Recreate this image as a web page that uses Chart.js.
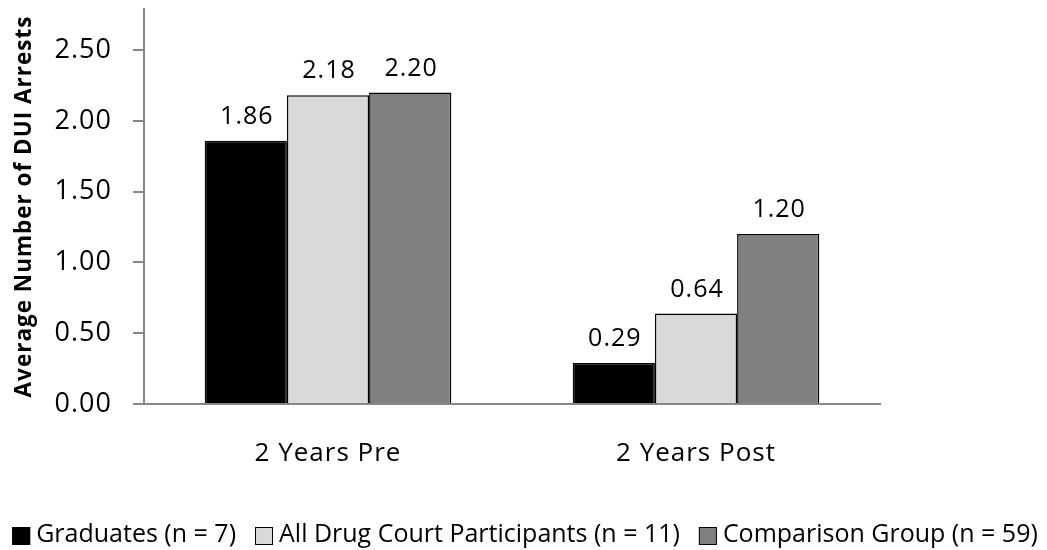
<!DOCTYPE html>
<html>
<head>
<meta charset="utf-8">
<script src="https://cdn.jsdelivr.net/npm/chart.js@4/dist/chart.umd.min.js"></script>
<style>
html,body{margin:0;padding:0;background:#fff;}
#wrap{width:1047px;height:550px;position:relative;}
</style>
</head>
<body>
<div id="wrap"><canvas id="c"></canvas></div>
<script>
const categories = ['2 Years Pre', '2 Years Post'];
const graduates = [1.86, 0.29];
const allParticipants = [2.18, 0.64];
const comparison = [2.20, 1.20];
const seriesLabels = ['Graduates (n = 7)', 'All Drug Court Participants (n = 11)', 'Comparison Group (n = 59)'];
const seriesColors = ['#000000', '#d9d9d9', '#808080'];
const yTickValues = [0, 0.5, 1.0, 1.5, 2.0, 2.5];
const yAxisTitle = 'Average Number of DUI Arrests';

const FONT = "'Open Sans', 'Noto Sans', sans-serif";

const spacingPlugin = {
  id: 'spacing',
  beforeDraw(chart) { chart.ctx.letterSpacing = '1px'; },
  afterDraw(chart) { chart.ctx.letterSpacing = '0px'; }
};

const dataLabels = {
  id: 'dataLabels',
  afterDatasetsDraw(chart) {
    const ctx = chart.ctx;
    ctx.save();
    ctx.letterSpacing = '1px';
    ctx.font = '25px ' + FONT;
    ctx.fillStyle = '#000';
    ctx.textAlign = 'center';
    ctx.textBaseline = 'middle';
    chart.data.datasets.forEach((ds, i) => {
      const meta = chart.getDatasetMeta(i);
      meta.data.forEach((el, j) => {
        ctx.fillText(ds.data[j].toFixed(2), el.x + 1, el.y - 24);
      });
    });
    ctx.restore();
  }
};

const customLegend = {
  id: 'customLegend',
  afterDraw(chart) {
    const ctx = chart.ctx;
    ctx.save();
    ctx.letterSpacing = '0px';
    ctx.font = '25px ' + FONT;
    ctx.textBaseline = 'middle';
    const box = 18, gapBoxText = 6, gapItems = 19;
    const widths = seriesLabels.map(t => ctx.measureText(t).width);
    const total = widths.reduce((a, b) => a + b, 0) + seriesLabels.length * (box + gapBoxText) + gapItems * (seriesLabels.length - 1);
    let x = 525 - total / 2;
    const cy = 536;
    seriesLabels.forEach((t, i) => {
      ctx.fillStyle = seriesColors[i];
      ctx.fillRect(x, cy - box / 2, box, box);
      ctx.strokeStyle = '#000';
      ctx.lineWidth = 1;
      ctx.strokeRect(x + 0.5, cy - box / 2 + 0.5, box - 1, box - 1);
      x += box + gapBoxText;
      ctx.fillStyle = '#000';
      ctx.textAlign = 'left';
      ctx.fillText(t, x, cy - 1);
      x += widths[i] + gapItems;
    });
    ctx.restore();
  }
};

new Chart(document.getElementById('c'), {
  type: 'bar',
  data: {
    labels: categories,
    datasets: [
      { label: seriesLabels[0], data: graduates, backgroundColor: seriesColors[0], borderColor: '#000', borderWidth: 1.5 },
      { label: seriesLabels[1], data: allParticipants, backgroundColor: seriesColors[1], borderColor: '#000', borderWidth: 1.5 },
      { label: seriesLabels[2], data: comparison, backgroundColor: seriesColors[2], borderColor: '#000', borderWidth: 1.5 }
    ]
  },
  options: {
    responsive: true,
    maintainAspectRatio: false,
    animation: false,
    layout: { padding: { left: 0, right: 167, top: 9, bottom: 0 } },
    datasets: { bar: { barPercentage: 1.0, categoryPercentage: 0.67 } },
    plugins: { legend: { display: false }, tooltip: { enabled: false } },
    scales: {
      x: {
        grid: { display: true, drawOnChartArea: false, drawTicks: false },
        border: { display: true, color: '#868686', width: 2 },
        ticks: { color: '#000', font: { family: FONT, size: 26 }, padding: 34 },
        afterFit(scale) { scale.height = 146; scale.paddingLeft = 0; scale.paddingRight = 0; }
      },
      y: {
        min: 0,
        max: 2.79,
        afterBuildTicks(scale) { scale.ticks = yTickValues.map(v => ({ value: v })); },
        grid: { display: true, drawOnChartArea: false, drawTicks: true, tickLength: 11, color: '#868686', lineWidth: 2 },
        border: { display: true, color: '#868686', width: 2 },
        ticks: { color: '#000', font: { family: FONT, size: 27 }, padding: 21, callback: v => Number(v).toFixed(2) },
        title: { display: true, text: yAxisTitle, color: '#000', font: { family: FONT, size: 22.5, weight: 'bold' }, padding: { top: 11, bottom: 0 } },
        afterFit(scale) { scale.width = 144; scale.paddingTop = 0; scale.paddingBottom = 0; }
      }
    }
  },
  plugins: [spacingPlugin, dataLabels, customLegend]
});
</script>
</body>
</html>
